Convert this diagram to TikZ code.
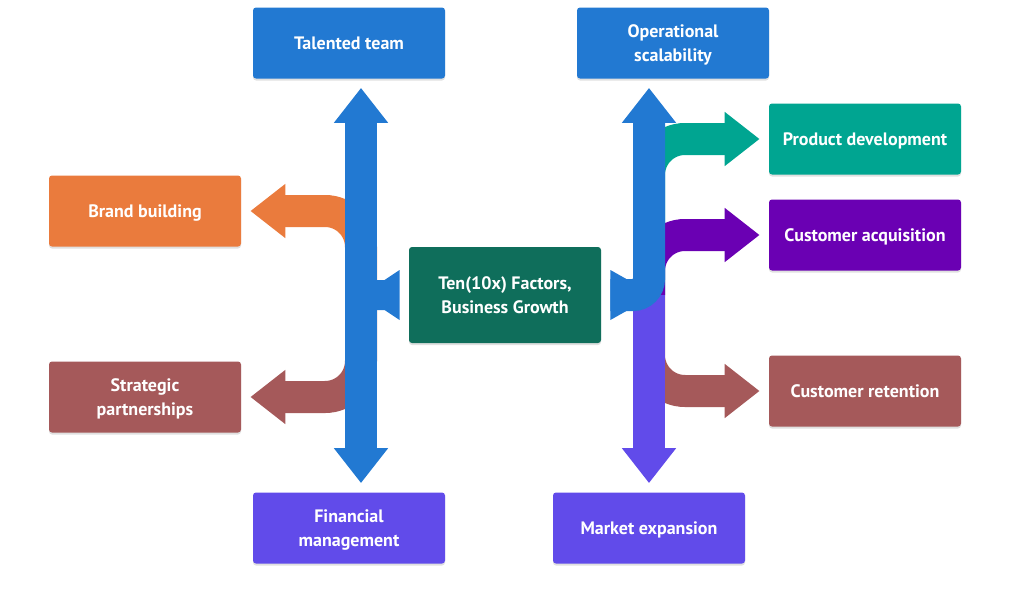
\documentclass[tikz,border=0pt]{standalone}
\usepackage{fontspec}
\setmainfont{PT Sans}
\usetikzlibrary{arrows.meta,shadows}
\definecolor{bblue}{HTML}{2279D2}
\definecolor{borange}{HTML}{EA7B3D}
\definecolor{bbrown}{HTML}{A5595A}
\definecolor{bgreen}{HTML}{0F6E5B}
\definecolor{bteal}{HTML}{00A591}
\definecolor{bpurple}{HTML}{6A00B3}
\definecolor{bviolet}{HTML}{614BEA}
\tikzset{
  box/.style={rectangle, rounded corners=1.5pt, minimum width=96pt, minimum height=35.5pt,
    text=white, align=center, text depth=0pt, font=\bfseries\fontsize{9}{12}\selectfont,
    drop shadow={shadow xshift=0pt, shadow yshift=-1pt, opacity=0.12, fill=black}},
  band/.style={line width=16pt},
  head/.style={arrows={-Triangle[length=17.5pt,width=26pt]}},
  heads/.style={arrows={Triangle[length=17.5pt,width=26pt]-Triangle[length=17.5pt,width=26pt]}},
}

\begin{document}
\begin{tikzpicture}[x=0.5pt,y=-0.5pt]
\useasboundingbox (0,0) rectangle (1012,589);

% boxes
\node[box, fill=bblue] (team) at (349,43) {Talented team};
\node[box, fill=bblue] (ops) at (673,43) {Operational\\scalability};
\node[box, fill=borange] (brand) at (145,211) {Brand building};
\node[box, fill=bbrown] (partner) at (145,397) {Strategic\\partnerships};
\node[box, fill=bgreen, minimum height=48pt] (ctr) at (505,295) {Ten(10x) Factors,\\Business Growth};
\node[box, fill=bteal] (prod) at (865,139) {Product development};
\node[box, fill=bpurple] (acq) at (865,235) {Customer acquisition};
\node[box, fill=bbrown] (ret) at (865,391) {Customer retention};
\node[box, fill=bviolet] (fin) at (349,528) {Financial\\management};
\node[box, fill=bviolet] (mkt) at (649,528) {Market expansion};

\coordinate (lhub) at (361,295);
\coordinate (rhub) at (649,295);

% left side
\draw[band, borange, head, rounded corners=18pt, shorten >=4.5pt] (lhub) |- (brand.east);
\draw[band, bbrown, head, rounded corners=18pt, shorten >=4.5pt] (lhub) |- (partner.east);
\draw[band, bblue, heads, shorten <=4.5pt, shorten >=4.5pt] (lhub |- team.south) -- (lhub |- fin.north);
\fill[bblue] ([xshift=-4.5pt]ctr.west) -- ++(0,-25) -- ++(-15,10) -- ++(-24,0) -- ++(0,30) -- ++(24,0) -- ++(15,10) -- cycle;

% right side
\draw[band, bteal, head, rounded corners=18pt, shorten >=4.5pt] (rhub) |- (prod.west);
\draw[band, bpurple, head, rounded corners=18pt, shorten >=4.5pt] (rhub) |- (acq.west);
\draw[band, bbrown, head, rounded corners=18pt, shorten >=4.5pt] (rhub) |- (ret.west);
\draw[band, bviolet, head, shorten >=4.5pt] (rhub) -- (rhub |- mkt.north);
\draw[band, bblue, head, rounded corners=8pt, shorten >=4.5pt] ([xshift=4.5pt]ctr.east) -- (rhub) -- (rhub |- ops.south);
\fill[bblue] ([xshift=4.5pt]ctr.east) -- ++(0,-25) -- ++(16,9) -- ++(0,32) -- ++(-16,9) -- cycle;
\end{tikzpicture}
\end{document}
